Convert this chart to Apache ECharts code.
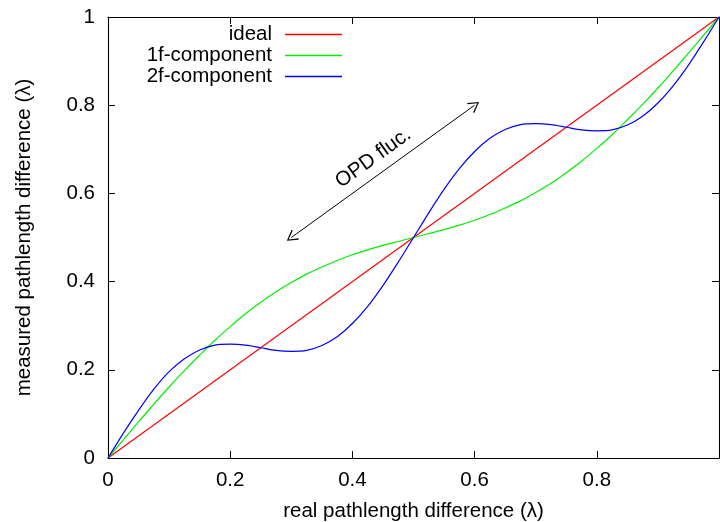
<!DOCTYPE html>
<html>
<head>
<meta charset="utf-8">
<script src="https://cdn.jsdelivr.net/npm/echarts@6/dist/echarts.min.js"></script>
<style>html,body{margin:0;padding:0;background:#fff}#c{width:720px;height:522px}</style>
</head>
<body>
<div id="c"></div>
<script>
// real pathlength difference (λ) sample positions
const realDiff = [0,0.025,0.05,0.075,0.1,0.125,0.15,0.175,0.2,0.225,0.25,0.275,0.3,0.325,0.35,0.375,0.4,0.425,0.45,0.475,0.5,0.525,0.55,0.575,0.6,0.625,0.65,0.675,0.7,0.725,0.75,0.775,0.8,0.825,0.85,0.875,0.9,0.925,0.95,0.975,1];
const comp1f = [0,0.041,0.082,0.122,0.161,0.198,0.233,0.267,0.298,0.327,0.353,0.377,0.398,0.417,0.433,0.448,0.461,0.472,0.482,0.491,0.5,0.509,0.518,0.528,0.539,0.552,0.567,0.583,0.602,0.623,0.647,0.673,0.702,0.733,0.767,0.802,0.839,0.878,0.918,0.959,1];
const comp2f = [0,0.056,0.108,0.156,0.196,0.225,0.245,0.256,0.258,0.256,0.25,0.244,0.242,0.244,0.255,0.275,0.305,0.344,0.391,0.444,0.5,0.556,0.609,0.656,0.695,0.725,0.745,0.756,0.758,0.756,0.75,0.744,0.742,0.744,0.755,0.775,0.805,0.844,0.891,0.944,1];
const idealX = [0, 1];
const idealY = [0, 1];
const xTicks = [0, 0.2, 0.4, 0.6, 0.8];
const yTicks = [0, 0.2, 0.4, 0.6, 0.8, 1];
const seriesNames = ['ideal', '1f-component', '2f-component'];
const arrowFrom = [0.3, 0.5];
const arrowTo = [0.6, 0.8];
const arrowText = 'OPD fluc.';

const FONT = 'Liberation Sans, Arial, Helvetica, sans-serif';
const FS = 20.5;
const pair = (xa, ya) => xa.map((x, i) => [x, ya[i]]);
const fmtX = v => (xTicks.some(t => Math.abs(t - v) < 1e-9) ? String(+v.toFixed(1)) : '');
const fmtY = v => String(+v.toFixed(1));

const axisCommon = {
  type: 'value', min: 0, max: 1, interval: 0.2,
  axisLine: { show: true, onZero: false, lineStyle: { color: '#000', width: 1.1 } },
  axisTick: { show: true, inside: true, length: 7, lineStyle: { color: '#000', width: 1 } },
  splitLine: { show: false }
};
const arrowHead = 'path://M0,0 L6,10 L5,10.9 L0,2.2 L-5,10.9 L-6,10 Z';

const chart = echarts.init(document.getElementById('c'), null, { renderer: 'canvas' });
const legendLines = seriesNames.map((n, i) => ({
  data: [n], orient: 'vertical', align: 'right', right: 378, top: 24 + i * 21,
  itemWidth: 57, itemHeight: 1.3, icon: 'rect', itemGap: 0, padding: 0,
  textStyle: { fontFamily: FONT, fontSize: FS, color: '#000', padding: [0, 8, 0, 0] },
  selectedMode: false
}));
chart.setOption({
  animation: false,
  backgroundColor: '#fff',
  textStyle: { fontFamily: FONT },
  grid: { left: 108, right: 1, top: 17, bottom: 64, containLabel: false, outerBoundsMode: 'none' },
  legend: legendLines,
  xAxis: [
    Object.assign({}, axisCommon, {
      position: 'bottom',
      name: 'real pathlength difference (λ)', nameLocation: 'middle', nameGap: 43,
      nameTextStyle: { fontFamily: FONT, fontSize: FS, color: '#000' },
      axisLabel: { show: true, margin: 12, color: '#000', fontFamily: FONT, fontSize: FS, formatter: fmtX, showMaxLabel: false }
    }),
    Object.assign({}, axisCommon, { position: 'top', axisLabel: { show: false } })
  ],
  yAxis: [
    Object.assign({}, axisCommon, {
      position: 'left',
      name: 'measured pathlength difference (λ)', nameLocation: 'middle', nameGap: 73,
      nameTextStyle: { fontFamily: FONT, fontSize: FS, color: '#000' },
      axisLabel: { show: true, margin: 13, color: '#000', fontFamily: FONT, fontSize: FS, formatter: fmtY }
    }),
    Object.assign({}, axisCommon, { position: 'right', axisLabel: { show: false } })
  ],
  series: [
    {
      name: seriesNames[0], type: 'line', data: pair(idealX, idealY), showSymbol: false, symbol: 'none',
      lineStyle: { color: '#ff0000', width: 1.2 }, itemStyle: { color: '#ff0000' }, z: 2,
      markLine: {
        silent: true, symbol: [arrowHead, arrowHead], symbolSize: [12, 11],
        lineStyle: { color: '#000', width: 1, type: 'solid' },
        itemStyle: { color: '#000' },
        label: { show: true, position: 'middle', formatter: arrowText, color: '#000', fontFamily: FONT, fontSize: FS, distance: 6 },
        data: [[{ coord: arrowFrom }, { coord: arrowTo }]]
      }
    },
    {
      name: seriesNames[1], type: 'line', data: pair(realDiff, comp1f), showSymbol: false, symbol: 'none', smooth: 0.3,
      lineStyle: { color: '#00ee00', width: 1.2 }, itemStyle: { color: '#00ee00' }, z: 3
    },
    {
      name: seriesNames[2], type: 'line', data: pair(realDiff, comp2f), showSymbol: false, symbol: 'none', smooth: 0.3,
      lineStyle: { color: '#0000ff', width: 1.2 }, itemStyle: { color: '#0000ff' }, z: 4
    }
  ]
});
</script>
</body>
</html>
